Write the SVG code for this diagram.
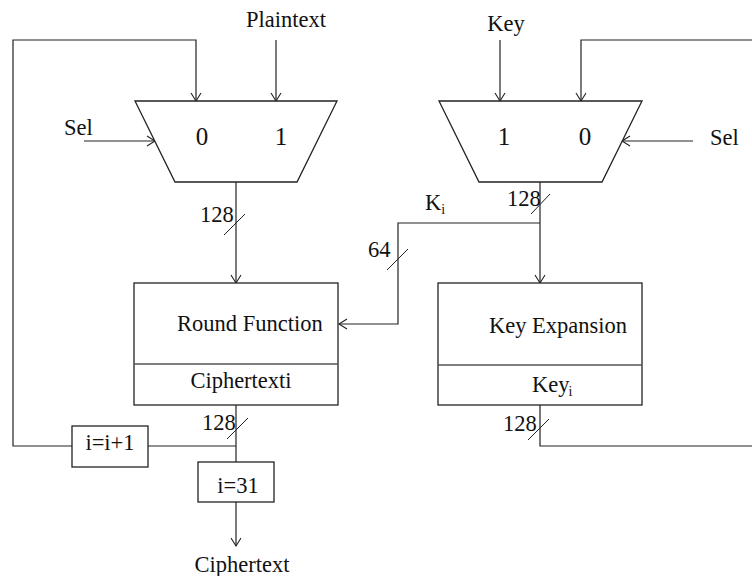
<svg xmlns="http://www.w3.org/2000/svg" width="752" height="576" viewBox="0 0 752 576">
  <defs>
    <marker id="arrow" markerWidth="12" markerHeight="12" refX="9" refY="6" orient="auto" markerUnits="userSpaceOnUse">
      <path d="M1,1 L9,6 L1,11" fill="none" stroke="#222" stroke-width="1.1"/>
    </marker>
    <style>
      .ln { fill: none; stroke: #222; stroke-width: 1.2; }
      .box { fill: #fff; stroke: #222; stroke-width: 1.3; }
      .div { stroke: #555; stroke-width: 1.5; }
      .tick { stroke: #222; stroke-width: 1; }
      .t { font-family: "Liberation Serif", "Times New Roman", serif; font-size: 22.5px; fill: #111; }
      .dig { font-size: 25px; }
      .sub { font-size: 14px; }
    </style>
  </defs>
  <rect width="752" height="576" fill="#fff"/>

  <!-- connectors -->
  <g id="connectors">
    <!-- feedback into left mux input 0 -->
    <polyline class="ln" points="72,446 13,446 13,40 196,40 196,101" marker-end="url(#arrow)"/>
    <line class="ln" x1="276" y1="40" x2="276" y2="101" marker-end="url(#arrow)"/>
    <line class="ln" x1="84" y1="141" x2="155" y2="141" marker-end="url(#arrow)"/>
    <!-- left mux to round function -->
    <line class="ln" x1="236" y1="182" x2="236" y2="283" marker-end="url(#arrow)"/>
    <line class="tick" x1="224" y1="235" x2="245" y2="214"/>
    <!-- key mux inputs -->
    <line class="ln" x1="500" y1="40" x2="500" y2="101" marker-end="url(#arrow)"/>
    <polyline class="ln" points="752,446 540,446 540,405"/>
    <polyline class="ln" points="752,40 581,40 581,101" marker-end="url(#arrow)"/>
    <line class="ln" x1="693" y1="141" x2="622" y2="141" marker-end="url(#arrow)"/>
    <line class="tick" x1="528" y1="440" x2="549" y2="419"/>
    <!-- key mux to key expansion -->
    <line class="ln" x1="540" y1="182" x2="540" y2="283" marker-end="url(#arrow)"/>
    <line class="tick" x1="531" y1="214" x2="550" y2="194"/>
    <!-- round key Ki -->
    <polyline class="ln" points="540,223 398,223 398,324 339,324" marker-end="url(#arrow)"/>
    <line class="tick" x1="387" y1="270" x2="408" y2="249"/>
    <!-- round output -->
    <line class="ln" x1="236" y1="405" x2="236" y2="462"/>
    <line class="ln" x1="236" y1="446" x2="148" y2="446"/>
    <line class="tick" x1="227" y1="439" x2="248" y2="418"/>
    <line class="ln" x1="236" y1="502" x2="236" y2="546" marker-end="url(#arrow)"/>
  </g>

  <!-- data multiplexer -->
  <g id="mux-data">
    <polygon class="box" points="135,101 337,101 297,182 175,182"/>
    <text class="t dig" x="202" y="145" text-anchor="middle">0</text>
    <text class="t dig" x="281" y="145" text-anchor="middle">1</text>
  </g>

  <!-- key multiplexer -->
  <g id="mux-key">
    <polygon class="box" points="439,101 642,101 602,182 479,182"/>
    <text class="t dig" x="504" y="145" text-anchor="middle">1</text>
    <text class="t dig" x="585" y="145" text-anchor="middle">0</text>
  </g>

  <g id="round-function">
    <rect class="box" x="134" y="283" width="204" height="122"/>
    <line class="div" x1="134" y1="364" x2="338" y2="364"/>
    <text class="t" x="177" y="331">Round Function</text>
    <text class="t" x="241" y="388" text-anchor="middle">Ciphertexti</text>
  </g>

  <g id="key-expansion">
    <rect class="box" x="438" y="283" width="204" height="122"/>
    <line class="div" x1="438" y1="365" x2="642" y2="365"/>
    <text class="t" x="489" y="333">Key Expansion</text>
    <text class="t" x="532" y="392">Key<tspan class="sub" dx="-1" dy="4">i</tspan></text>
  </g>

  <g id="counter-inc">
    <rect class="box" x="72" y="426" width="76" height="41"/>
    <text class="t" x="110" y="450" text-anchor="middle">i=i+1</text>
  </g>

  <g id="counter-end">
    <rect class="box" x="198" y="462" width="76" height="40"/>
    <text class="t" x="238" y="493" text-anchor="middle">i=31</text>
  </g>

  <!-- labels -->
  <g id="labels">
    <text class="t" x="286" y="27" text-anchor="middle">Plaintext</text>
    <text class="t" x="506" y="31" text-anchor="middle">Key</text>
    <text class="t" x="64" y="135">Sel</text>
    <text class="t" x="710" y="145">Sel</text>
    <text class="t" x="200" y="222">128</text>
    <text class="t" x="507" y="206">128</text>
    <text class="t" x="368" y="257">64</text>
    <text class="t" x="425" y="210">K<tspan class="sub" dy="4">i</tspan></text>
    <text class="t" x="202" y="430">128</text>
    <text class="t" x="503" y="431">128</text>
    <text class="t" x="242" y="572" text-anchor="middle">Ciphertext</text>
  </g>
</svg>
